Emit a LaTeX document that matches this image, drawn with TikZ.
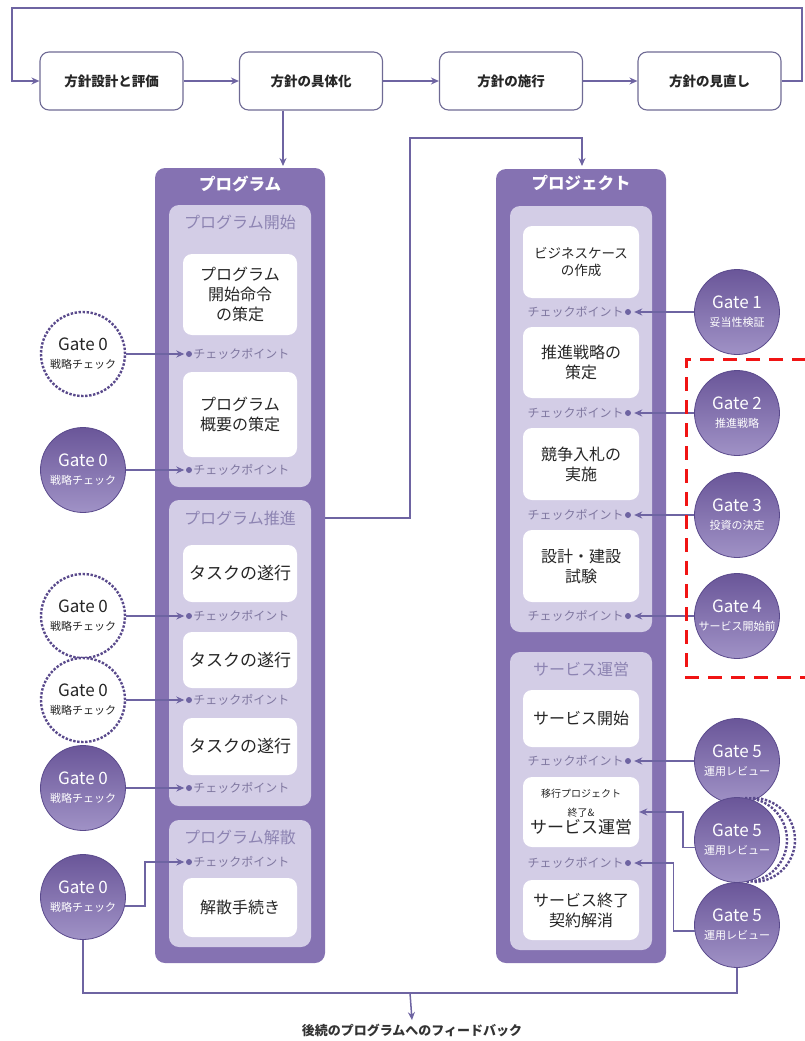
\documentclass[tikz,border=0pt]{standalone}
\usepackage{fontspec}
\setmainfont{Noto Sans CJK JP}
\usetikzlibrary{arrows.meta,calc}
\definecolor{outercol}{HTML}{8572B2}
\definecolor{panelcol}{HTML}{D3CDE6}
\definecolor{ptitlecol}{HTML}{8D84B2}
\definecolor{conn}{HTML}{6E64A2}
\definecolor{gateA}{HTML}{6A5699}
\definecolor{gateB}{HTML}{A092C6}
\definecolor{gateline}{HTML}{5A4A8C}
\definecolor{boxline}{HTML}{6E6A94}
\definecolor{redline}{HTML}{F01414}
\newcommand\gtxt[2]{{\fontsize{17}{17}\selectfont #1}\\{\fontsize{11}{12}\selectfont #2}}
\begin{document}
\begin{tikzpicture}[x=1pt,y=-1pt,
  topbox/.style={draw=boxline, line width=1.1pt, rounded corners=9pt, minimum width=143pt, minimum height=58pt, inner sep=0pt, font=\bfseries\fontsize{13.5}{16}\selectfont, text=black!85},
  arr/.style={draw=conn, line width=1.5pt, -{Stealth[length=8pt,width=7pt]}},
  plain/.style={draw=conn, line width=1.5pt},
  colbox/.style={fill=outercol, rounded corners=10pt, minimum width=170pt, inner sep=0pt},
  panbox/.style={fill=panelcol, rounded corners=10pt, minimum width=142pt, inner sep=0pt},
  wbox/.style={fill=white, rounded corners=9pt, inner sep=0pt, align=center, font=\fontsize{16}{20}\selectfont, text=black!85},
  pantitle/.style={text=ptitlecol, font=\fontsize{16}{18}\selectfont, inner sep=0pt},
  coltitle/.style={text=white, font=\bfseries\fontsize{16.5}{18}\selectfont, inner sep=0pt},
  cpdot/.style={circle, fill=conn, minimum size=6pt, inner sep=0pt},
  cptext/.style={text=ptitlecol!90!black, font=\fontsize{12}{13}\selectfont, inner sep=1pt},
  gate/.style={circle, minimum size=85pt, inner sep=0pt, draw=gateline, line width=0.8pt, top color=gateA, bottom color=gateB, text=white, align=center, font=\fontsize{11}{18}\selectfont},
  dgate/.style={circle, minimum size=84pt, inner sep=0pt, draw=gateline, line width=2.4pt, dash pattern=on 2.4pt off 1.6pt, fill=white, text=black!85, align=center, font=\fontsize{11}{18}\selectfont},
  darc/.style={draw=gateline, line width=2.4pt, dash pattern=on 2.4pt off 1.6pt}
]
\useasboundingbox (0,0) rectangle (804,1041);

% ---------- top row ----------
\node[topbox] (b1) at (111.5,81) {方針設計と評価};
\node[topbox] (b2) at (311,81) {方針の具体化};
\node[topbox] (b3) at (511,81) {方針の施行};
\node[topbox] (b4) at (709.5,81) {方針の見直し};
\draw[arr] (b1) -- (b2);
\draw[arr] (b2) -- (b3);
\draw[arr] (b3) -- (b4);
\coordinate (lr) at (802,81);
\coordinate (tr) at (802,8);
\coordinate (tl) at (12,8);
\coordinate (ll) at (12,81);
\draw[arr] (b4.east) -- (lr) -- (tr) -- (tl) -- (ll) -- (b1.west);

% ---------- program column ----------
\node[colbox, minimum height=795pt] (pcol) at (240,565.5) {};
\node[coltitle] (pt) at (240,184) {プログラム};
\node[panbox, minimum height=282pt] (pA) at (240,346) {};
\node[pantitle] (tA) at (240,222) {プログラム開始};
\node[wbox, minimum width=114pt, minimum height=81pt] (wA1) at (240,294.5) {プログラム\\開始命令\\の策定};
\node[wbox, minimum width=114pt, minimum height=85pt] (wA2) at (240,414.5) {プログラム\\概要の策定};
\node[panbox, minimum height=306pt] (pB) at (240,653) {};
\node[pantitle] (tB) at (240,518) {プログラム推進};
\node[wbox, minimum width=114pt, minimum height=57pt, font=\fontsize{17}{20}\selectfont] (wB1) at (240,573.5) {タスクの遂行};
\node[wbox, minimum width=114pt, minimum height=56pt, font=\fontsize{17}{20}\selectfont] (wB2) at (240,660) {タスクの遂行};
\node[wbox, minimum width=114pt, minimum height=57pt, font=\fontsize{17}{20}\selectfont] (wB3) at (240,746.5) {タスクの遂行};
\node[panbox, minimum height=127pt] (pC) at (240,883.5) {};
\node[pantitle] (tC) at (240,837) {プログラム解散};
\node[wbox, minimum width=114pt, minimum height=59pt] (wC1) at (240,907.5) {解散手続き};

% program checkpoints
\node[cpdot] (cA1) at (189,354) {};
\node[cptext, anchor=west] (xA1) at (cA1.east) {チェックポイント};
\node[cpdot] (cA2) at (189,470) {};
\node[cptext, anchor=west] (xA2) at (cA2.east) {チェックポイント};
\node[cpdot] (cB1) at (189,616) {};
\node[cptext, anchor=west] (xB1) at (cB1.east) {チェックポイント};
\node[cpdot] (cB2) at (189,700) {};
\node[cptext, anchor=west] (xB2) at (cB2.east) {チェックポイント};
\node[cpdot] (cB3) at (189,788) {};
\node[cptext, anchor=west] (xB3) at (cB3.east) {チェックポイント};
\node[cpdot] (cC1) at (189,862) {};
\node[cptext, anchor=west] (xC1) at (cC1.east) {チェックポイント};

% gate 0 circles
\node[dgate] (g01) at (83,354) {\gtxt{Gate 0}{戦略チェック}};
\node[gate] (g02) at (83,470) {\gtxt{Gate 0}{戦略チェック}};
\node[dgate] (g03) at (83,616) {\gtxt{Gate 0}{戦略チェック}};
\node[dgate] (g04) at (83,700) {\gtxt{Gate 0}{戦略チェック}};
\node[gate] (g05) at (83,788) {\gtxt{Gate 0}{戦略チェック}};
\node[gate] (g06) at (83,897) {\gtxt{Gate 0}{戦略チェック}};
\draw[arr, shorten >=1.5pt] (g01) -- (cA1);
\draw[arr, shorten >=1.5pt] (g02) -- (cA2);
\draw[arr, shorten >=1.5pt] (g03) -- (cB1);
\draw[arr, shorten >=1.5pt] (g04) -- (cB2);
\draw[arr, shorten >=1.5pt] (g05) -- (cB3);
\draw[arr, shorten >=1.5pt] (g06.-12) -- ++(20,0) |- (cC1.west);

% box2 -> program
\coordinate (pin) at (283,166);
\draw[arr] (b2.south -| pin) -- (pin);

% ---------- project column ----------
\node[colbox, minimum height=794pt] (jcol) at (581,566) {};
\node[coltitle] (jt) at (581,183) {プロジェクト};
\node[panbox, minimum height=426pt] (qA) at (581,419) {};
\node[wbox, minimum width=116pt, minimum height=72pt, font=\fontsize{13.5}{17}\selectfont] (vA1) at (581,262) {ビジネスケース\\の作成};
\node[wbox, minimum width=116pt, minimum height=71pt] (vA2) at (581,362.5) {推進戦略の\\策定};
\node[wbox, minimum width=116pt, minimum height=72pt] (vA3) at (581,464) {競争入札の\\実施};
\node[wbox, minimum width=116pt, minimum height=72pt] (vA4) at (581,566) {設計・建設\\試験};
\node[panbox, minimum height=298pt] (qB) at (581,801) {};
\node[pantitle] (uB) at (581,669) {サービス運営};
\node[wbox, minimum width=116pt, minimum height=57pt] (vB1) at (581,718.5) {サービス開始};
\node[wbox, minimum width=116pt, minimum height=70pt, font=\fontsize{10}{15}\selectfont] (vB2) at (581,812) {移行プロジェクト\\[4pt]終了\&\\{\fontsize{17}{19}\selectfont サービス運営}};
\node[wbox, minimum width=116pt, minimum height=60pt] (vB3) at (581,910) {サービス終了\\契約解消};

% project checkpoints
\node[cpdot] (dA1) at (628,312) {};
\node[cptext, anchor=east] (yA1) at (dA1.west) {チェックポイント};
\node[cpdot] (dA2) at (628,413) {};
\node[cptext, anchor=east] (yA2) at (dA2.west) {チェックポイント};
\node[cpdot] (dA3) at (628,515) {};
\node[cptext, anchor=east] (yA3) at (dA3.west) {チェックポイント};
\node[cpdot] (dA4) at (628,616) {};
\node[cptext, anchor=east] (yA4) at (dA4.west) {チェックポイント};
\node[cpdot] (dB1) at (628,761) {};
\node[cptext, anchor=east] (yB1) at (dB1.west) {チェックポイント};
\node[cpdot] (dB2) at (628,863) {};
\node[cptext, anchor=east] (yB2) at (dB2.west) {チェックポイント};

% program -> project
\coordinate (m1) at (410,518);
\coordinate (m2) at (410,138);
\coordinate (m3) at (582,138);
\coordinate (jin) at (582,166);
\draw[arr] (tB -| pcol.east) -- (m1) -- (m2) -- (m3) -- (jin);

% right gates
\node[gate] (g1) at (737,312) {\gtxt{Gate 1}{妥当性検証}};
\node[gate] (g2) at (737,413) {\gtxt{Gate 2}{推進戦略}};
\node[gate] (g3) at (737,515) {\gtxt{Gate 3}{投資の決定}};
\node[gate] (g4) at (737,616) {\gtxt{Gate 4}{サービス開始前}};
\node[gate] (g51) at (737,761) {\gtxt{Gate 5}{運用レビュー}};
\draw[darc] (753,798) arc[start angle=-90, end angle=90, radius=42];
\draw[darc] (745,798) arc[start angle=-90, end angle=90, radius=42];
\node[gate] (g52) at (737,840) {\gtxt{Gate 5}{運用レビュー}};
\node[gate] (g53) at (737,925) {\gtxt{Gate 5}{運用レビュー}};

\draw[arr, shorten >=3pt] (g1) -- (dA1);
\draw[arr, shorten >=3pt] (g2) -- (dA2);
\draw[arr, shorten >=3pt] (g3) -- (dA3);
\draw[arr, shorten >=3pt] (g4) -- (dA4);
\draw[arr, shorten >=3pt] (g51) -- (dB1);
\draw[arr] (g52.190) -- ++(-12,0) |- (vB2.east);
\draw[arr, shorten >=3pt] (g53.188) -- ++(-21,0) |- (dB2.east);

% red dashed frame
\coordinate (r1) at (806,359);
\coordinate (r2) at (686,359);
\coordinate (r3) at (686,677);
\coordinate (r4) at (806,677);
\draw[redline, line width=3pt, dash pattern=on 14pt off 9pt] (r1) -- (r2) -- (r3) -- (r4);

% feedback
\coordinate (fb) at (410,993);
\node[font=\bfseries\fontsize{13}{15}\selectfont, text=black!80] (fbt) at (412,1030) {後続のプログラムへのフィードバック};
\draw[plain] (g06.south) -- (g06.south |- fb) -- (fb -| g53.south) -- (g53.south);
\draw[arr] (fb) -- (fbt.north);
\end{tikzpicture}
\end{document}
